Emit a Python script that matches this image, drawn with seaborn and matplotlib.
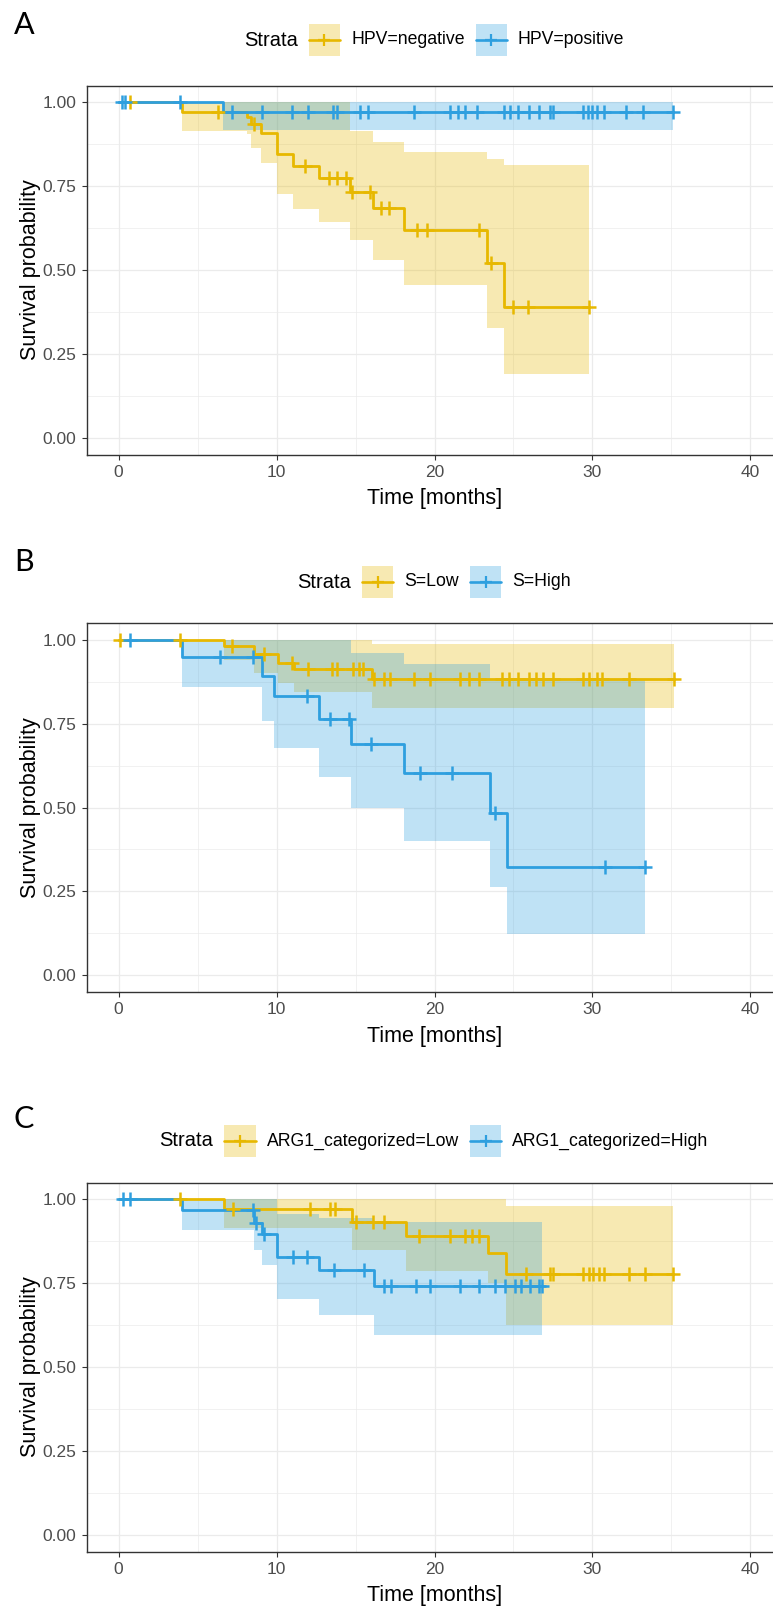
import numpy as np
import pandas as pd
import matplotlib
matplotlib.use("Agg")
import matplotlib.pyplot as plt
import seaborn as sns
from matplotlib.offsetbox import TextArea, DrawingArea, HPacker, AnchoredOffsetbox
from matplotlib.patches import Rectangle
from matplotlib.lines import Line2D
from matplotlib.ticker import FixedLocator

sns.set_theme(style="white")
plt.rcParams["font.family"] = ["Liberation Sans", "DejaVu Sans"]

COL_LOW = "#E7B800"
COL_HIGH = "#2E9FDF"

# ---------------- Panel A: HPV status ----------------
hpv_neg_event_t = [4.0, 8.1, 8.4, 9.0, 10.0, 11.05, 12.7, 14.65, 16.1, 18.1, 23.35, 24.4]
hpv_neg_surv = [0.970, 0.955, 0.935, 0.908, 0.845, 0.810, 0.775, 0.733, 0.685, 0.620, 0.520, 0.390]
hpv_neg_lower = [0.915, 0.905, 0.863, 0.818, 0.727, 0.683, 0.643, 0.590, 0.530, 0.456, 0.327, 0.190]
hpv_neg_upper = [1.0, 1.0, 1.0, 1.0, 1.0, 1.0, 1.0, 0.913, 0.883, 0.853, 0.832, 0.812]
hpv_neg_censor_t = [0.7, 6.3, 8.6, 11.8, 13.3, 13.8, 14.4, 14.8, 15.9, 16.6, 17.1,
                    18.9, 19.5, 22.8, 23.6, 25.0, 25.9, 29.8]

hpv_pos_event_t = [6.6]
hpv_pos_surv = [0.972]
hpv_pos_lower = [0.917]
hpv_pos_upper = [1.0]
hpv_pos_censor_t = [0.2, 0.4, 3.9, 7.2, 9.1, 11.0, 12.0, 13.6, 13.8, 15.3, 15.8, 18.7,
                    21.0, 21.5, 21.9, 22.7, 24.4, 24.8, 25.3, 26.0, 26.6, 27.3, 27.5,
                    29.4, 29.7, 30.0, 30.3, 30.7, 32.1, 33.2, 35.1]

# ---------------- Panel B: S score ----------------
s_low_event_t = [6.65, 8.6, 10.1, 11.1, 16.05]
s_low_surv = [0.980, 0.957, 0.932, 0.913, 0.883]
s_low_lower = [0.940, 0.900, 0.870, 0.843, 0.796]
s_low_upper = [1.0, 1.0, 1.0, 1.0, 0.986]
s_low_censor_t = [0.1, 3.9, 7.2, 9.2, 11.0, 12.0, 13.5, 13.8, 14.85, 15.2, 15.5, 16.2,
                  16.8, 17.2, 18.7, 19.7, 21.6, 22.2, 22.8, 24.3, 24.7, 25.3, 26.0,
                  26.4, 26.9, 27.5, 29.4, 29.8, 30.3, 30.6, 32.3, 35.15]

s_high_event_t = [4.0, 9.1, 9.85, 12.7, 14.7, 18.1, 23.5, 24.6]
s_high_surv = [0.950, 0.893, 0.831, 0.765, 0.689, 0.604, 0.483, 0.324]
s_high_lower = [0.860, 0.758, 0.676, 0.592, 0.498, 0.400, 0.264, 0.122]
s_high_upper = [1.0, 1.0, 1.0, 1.0, 0.962, 0.928, 0.880, 0.880]
s_high_censor_t = [0.7, 6.4, 8.5, 11.9, 13.4, 14.6, 16.0, 19.1, 21.1, 23.8, 30.8, 33.35]

# ---------------- Panel C: ARG1 ----------------
arg1_low_event_t = [6.65, 14.75, 18.2, 23.4, 24.5]
arg1_low_surv = [0.971, 0.931, 0.891, 0.840, 0.776]
arg1_low_lower = [0.914, 0.850, 0.786, 0.750, 0.625]
arg1_low_upper = [1.0, 1.0, 1.0, 1.0, 0.980]
arg1_low_censor_t = [3.9, 7.25, 12.1, 13.4, 13.7, 15.05, 16.1, 16.8, 19.05, 21.0, 21.9,
                     22.4, 22.8, 25.8, 27.3, 27.5, 29.4, 29.75, 30.05, 30.4, 30.7,
                     32.3, 33.3, 35.1]

arg1_high_event_t = [4.0, 8.6, 9.05, 10.0, 12.7, 16.15]
arg1_high_surv = [0.968, 0.929, 0.896, 0.828, 0.789, 0.742]
arg1_high_lower = [0.907, 0.850, 0.803, 0.702, 0.655, 0.596]
arg1_high_upper = [1.0, 1.0, 1.0, 0.955, 0.945, 0.932]
arg1_high_censor_t = [0.25, 0.75, 8.5, 8.7, 9.2, 11.05, 11.95, 13.65, 15.55, 16.8, 17.25,
                      18.85, 19.7, 21.6, 22.8, 23.8, 24.45, 25.1, 25.5, 26.05, 26.6, 26.8]

panels = [
    dict(letter="A", labels=["HPV=negative", "HPV=positive"],
         groups=[(hpv_neg_event_t, hpv_neg_surv, hpv_neg_lower, hpv_neg_upper, hpv_neg_censor_t),
                 (hpv_pos_event_t, hpv_pos_surv, hpv_pos_lower, hpv_pos_upper, hpv_pos_censor_t)]),
    dict(letter="B", labels=["S=Low", "S=High"],
         groups=[(s_low_event_t, s_low_surv, s_low_lower, s_low_upper, s_low_censor_t),
                 (s_high_event_t, s_high_surv, s_high_lower, s_high_upper, s_high_censor_t)]),
    dict(letter="C", labels=["ARG1_categorized=Low", "ARG1_categorized=High"],
         groups=[(arg1_low_event_t, arg1_low_surv, arg1_low_lower, arg1_low_upper, arg1_low_censor_t),
                 (arg1_high_event_t, arg1_high_surv, arg1_high_lower, arg1_high_upper, arg1_high_censor_t)]),
]
colors = [COL_LOW, COL_HIGH]

W, H = 773, 1609
fig = plt.figure(figsize=(W / 100, H / 100), dpi=100)

# panel geometry in pixels: (top of panel box, legend row centre, letter centre)
layout = [(85.5, 40, 25), (623.0, 582, 562), (1182.5, 1141, 1119)]
box_left, box_w, box_h = 87.0, 695.0, 369.0


def km_steps(event_t, surv, lower, upper, censor_t):
    end = max(max(censor_t), max(event_t))
    t = np.r_[0.0, event_t, end]
    s = np.r_[1.0, surv, surv[-1]]
    lo = np.r_[1.0, lower, lower[-1]]
    hi = np.r_[1.0, upper, upper[-1]]
    return t, s, lo, hi


def surv_at(times, event_t, surv):
    idx = np.searchsorted(np.asarray(event_t), np.asarray(times), side="right")
    return np.r_[1.0, surv][idx]


def legend_key(color):
    da = DrawingArea(22.5, 22.5, 0, 0)
    da.add_artist(Rectangle((0, 0), 22.5, 22.5, facecolor=color, alpha=0.3, edgecolor="none"))
    da.add_artist(Line2D([0, 22.5], [11.25, 11.25], color=color, linewidth=1.9))
    da.add_artist(Line2D([11.25], [11.25], marker="+", markersize=9, markeredgewidth=1.6,
                         color=color, linestyle="none"))
    return da


for panel, (top, leg_y, let_y) in zip(panels, layout):
    ax = fig.add_axes([box_left / W, 1 - (top + box_h) / H, box_w / W, box_h / H])
    steps = [km_steps(*g) for g in panel["groups"]]

    for (t, s, lo, hi), c in zip(steps, colors):
        ax.fill_between(t, lo, hi, step="post", color=c, alpha=0.3, linewidth=0, zorder=2)
    for (t, s, lo, hi), c in zip(steps, colors):
        df = pd.DataFrame({"time": t, "surv": s})
        sns.lineplot(data=df, x="time", y="surv", drawstyle="steps-post", color=c,
                     linewidth=2.0, estimator=None, sort=False, ax=ax, zorder=3)
    for g, c in zip(panel["groups"], colors):
        ev, sv, _, _, cens = g
        sns.scatterplot(x=cens, y=surv_at(cens, ev, sv), marker="+", s=95, color=c,
                        linewidth=1.8, ax=ax, zorder=4, legend=False)

    ax.set_xlim(-2, 42)
    ax.set_ylim(-0.05, 1.05)
    ax.xaxis.set_major_locator(FixedLocator([0, 10, 20, 30, 40]))
    ax.xaxis.set_minor_locator(FixedLocator([5, 15, 25, 35]))
    ax.yaxis.set_major_locator(FixedLocator([0, 0.25, 0.5, 0.75, 1.0]))
    ax.yaxis.set_minor_locator(FixedLocator([0.125, 0.375, 0.625, 0.875]))
    ax.set_yticklabels(["0.00", "0.25", "0.50", "0.75", "1.00"])
    ax.grid(which="major", color="#EBEBEB", linewidth=0.9, zorder=0)
    ax.grid(which="minor", color="#EBEBEB", linewidth=0.5, zorder=0)
    ax.set_axisbelow(True)
    ax.tick_params(which="major", length=3.5, width=0.8, color="#333333",
                   labelsize=12.5, labelcolor="#4D4D4D", pad=4,
                   left=True, bottom=True)
    ax.tick_params(which="minor", length=0)
    for sp in ax.spines.values():
        sp.set_color("#333333")
        sp.set_linewidth(1.0)
    ax.set_xlabel("Time [months]", fontsize=15.5, color="black", labelpad=6)
    ax.set_ylabel("Survival probability", fontsize=15.5, color="black", labelpad=1)

    # legend row: "Strata" followed by the two keys
    items = [TextArea("Strata", textprops=dict(fontsize=14.5, color="black"))]
    for lab, c in zip(panel["labels"], colors):
        items.append(legend_key(c))
        items.append(TextArea(lab, textprops=dict(fontsize=12.7, color="black")))
    row = HPacker(children=items, align="center", pad=0, sep=8)
    anch = AnchoredOffsetbox(loc="center", child=row, pad=0, borderpad=0, frameon=False,
                             bbox_to_anchor=(434 / W, 1 - leg_y / H),
                             bbox_transform=fig.transFigure)
    fig.add_artist(anch)

    fig.text(14 / W, 1 - let_y / H, panel["letter"], fontsize=22, fontweight="normal",
             family=["Lato", "Liberation Sans", "DejaVu Sans"], ha="left", va="center",
             color="black")

fig.savefig("out.png", dpi=100)
